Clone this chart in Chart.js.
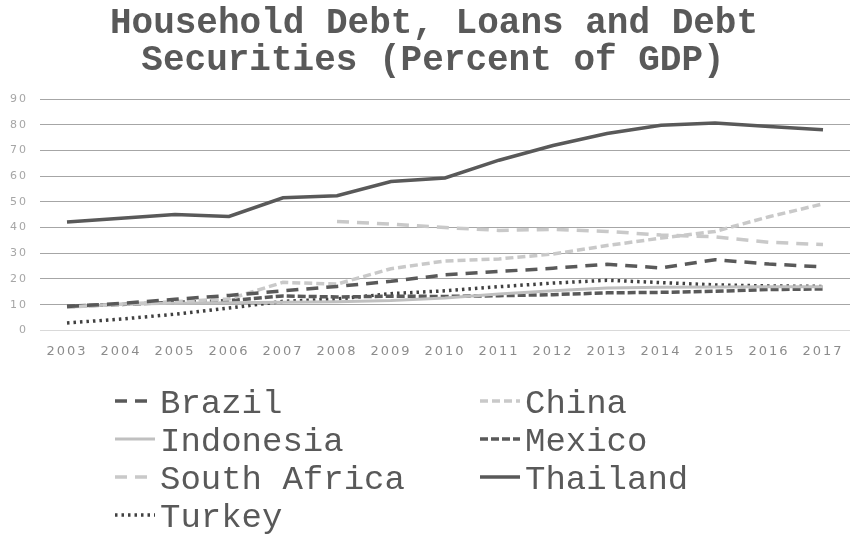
<!DOCTYPE html>
<html>
<head>
<meta charset="utf-8">
<script src="https://cdn.jsdelivr.net/npm/chart.js@4.4.1/dist/chart.umd.min.js"></script>
<style>
  html, body { margin: 0; padding: 0; background: #fff; }
  #wrap { width: 855px; height: 536px; position: relative; }
</style>
</head>
<body>
<div id="wrap"><canvas id="myChart"></canvas></div>
<script>
const years = ["2003", "2004", "2005", "2006", "2007", "2008", "2009", "2010",
  "2011", "2012", "2013", "2014", "2015", "2016", "2017"];

const brazil = [9.3, 10.5, 12.1, 13.6, 15.4, 17.1, 19.1, 21.6, 22.9, 24.2, 25.7, 24.3, 27.5, 25.8, 24.7];
const china = [9.0, 10.2, 11.2, 12.2, 18.7, 18.0, 24.0, 27.0, 27.8, 29.7, 33.0, 35.9, 38.5, 44.2, 49.2];
const indonesia = [9.0, 10.2, 10.6, 10.8, 10.9, 11.1, 11.6, 12.6, 14.2, 15.4, 16.5, 16.8, 16.9, 17.0, 17.0];
const mexico = [9.4, 10.1, 10.9, 11.6, 13.4, 13.0, 13.3, 13.2, 13.5, 13.9, 14.6, 14.8, 15.2, 15.9, 16.1];
const southAfrica = [null, null, null, null, null, 42.4, 41.3, 40.0, 38.9, 39.3, 38.5, 37.1, 36.4, 34.3, 33.4];
const thailand = [42.2, 43.6, 45.1, 44.3, 51.6, 52.4, 57.9, 59.3, 66.2, 71.9, 76.6, 79.8, 80.7, 79.3, 78.0];
const turkey = [2.9, 4.4, 6.3, 8.7, 11.3, 12.2, 14.3, 15.4, 17.0, 18.4, 19.5, 18.6, 17.7, 17.3, 17.1];

const yTicks = [0, 10, 20, 30, 40, 50, 60, 70, 80, 90];
const titleLines = ["Household Debt, Loans and Debt", "Securities (Percent of GDP)"];

const dark = "#595959";
const light = "#c9c9c9";

function series(label, data, color, width, dash) {
  return {
    label: label,
    data: data,
    borderColor: color,
    backgroundColor: color,
    borderWidth: width,
    borderDash: dash,
    pointRadius: 0,
    tension: 0,
    spanGaps: false,
    fill: false,
  };
}

const datasets = [
  series("Brazil", brazil, dark, 3.5, [12, 8]),
  series("China", china, light, 3.5, [8, 4]),
  series("Indonesia", indonesia, "#c0c0c0", 3, []),
  series("Mexico", mexico, dark, 3.5, [8, 3]),
  series("South Africa", southAfrica, light, 3.5, [12, 8]),
  series("Thailand", thailand, dark, 3.5, []),
  series("Turkey", turkey, "#404040", 3.5, [2.5, 4]),
];

// spacing for axis tick text, reset for title and legend
const spacingPlugin = {
  id: "spacing",
  beforeDraw(chart) {
    chart.ctx.letterSpacing = "2px";
  },
};

const titleLegendPlugin = {
  id: "titleLegend",
  afterDraw(chart) {
    const c = chart.ctx;
    c.save();
    c.letterSpacing = "0px";
    c.fillStyle = dark;
    c.textAlign = "center";
    c.textBaseline = "alphabetic";
    c.font = "bold 36px 'Liberation Mono'";
    c.fillText(titleLines[0], 434, 33);
    c.fillText(titleLines[1], 433, 70);

    const cols = [115, 480];
    const rows = [413, 451, 489, 527];
    c.font = "34px 'Liberation Mono'";
    c.textAlign = "left";
    chart.data.datasets.forEach(function (ds, i) {
      const x = cols[i % 2];
      const base = rows[Math.floor(i / 2)];
      const mid = base - 12;
      c.save();
      c.strokeStyle = ds.borderColor;
      c.lineWidth = ds.borderWidth;
      c.setLineDash(ds.borderDash);
      c.beginPath();
      c.moveTo(x, mid);
      c.lineTo(x + 40, mid);
      c.stroke();
      c.restore();
      c.fillStyle = dark;
      c.fillText(ds.label, x + 45, base);
    });
    c.restore();
  },
};

let ctx = document.getElementById("myChart");
let myChart = new Chart(ctx, {
  type: "line",
  data: {
    labels: years,
    datasets: datasets,
  },
  plugins: [spacingPlugin, titleLegendPlugin],
  options: {
    responsive: true,
    maintainAspectRatio: false,
    animation: false,
    layout: {
      padding: { top: 99, bottom: 172, left: 2, right: 5 },
    },
    plugins: {
      legend: { display: false },
      title: { display: false },
      tooltip: { enabled: false },
    },
    scales: {
      x: {
        offset: true,
        grid: { display: false },
        border: { display: false },
        ticks: {
          color: "#8c8c8c",
          font: { family: "'DejaVu Sans'", size: 13 },
          padding: 5,
          maxRotation: 0,
          autoSkip: false,
        },
      },
      y: {
        min: 0,
        max: 90,
        afterBuildTicks(axis) {
          axis.ticks = yTicks.map((v) => ({ value: v }));
        },
        border: { display: false },
        grid: {
          drawTicks: false,
          lineWidth: 1,
          color: (c) => (c.tick && c.tick.value === 0 ? "#d9d9d9" : "#a6a6a6"),
        },
        ticks: {
          color: "#a6a6a6",
          font: { family: "'DejaVu Sans'", size: 11 },
          padding: 12,
        },
      },
    },
  },
});
</script>
</body>
</html>
